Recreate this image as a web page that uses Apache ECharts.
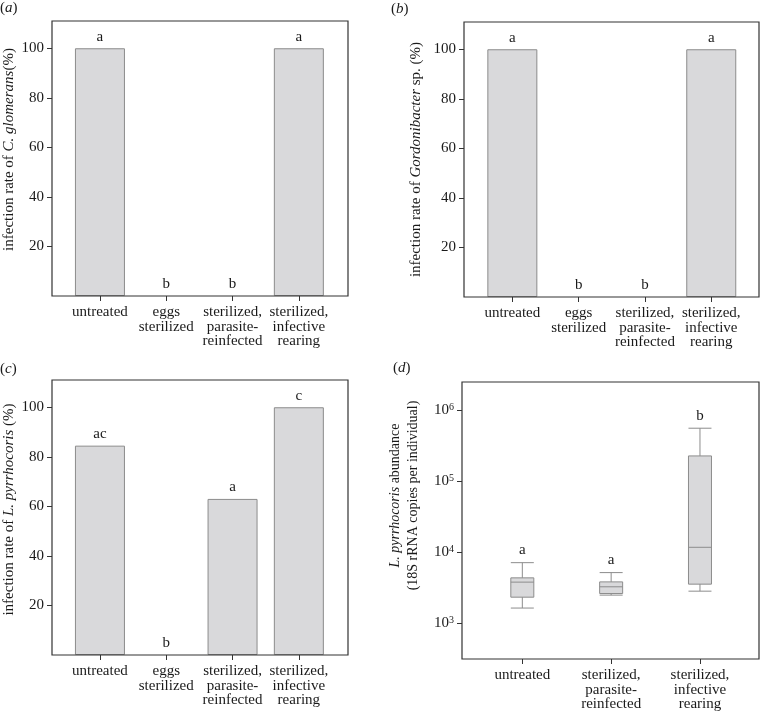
<!DOCTYPE html>
<html>
<head>
    <meta charset="utf-8">
    <title>infection rates</title>
    <script src="https://cdn.jsdelivr.net/npm/echarts@6.0.0/dist/echarts.min.js"></script>
    <style>
        html, body { margin: 0; padding: 0; background: #fff; }
        #main { width: 760px; height: 712px; }
    </style>
</head>
<body>
<div id="main"></div>
<script type="text/javascript">
    // categories
    var catsFour = ['untreated', 'eggs\nsterilized', 'sterilized,\nparasite-\nreinfected', 'sterilized,\ninfective\nrearing'];
    var catsThree = ['untreated', 'sterilized,\nparasite-\nreinfected', 'sterilized,\ninfective\nrearing'];

    // infection rates (%)
    var rateA = [100, 0, 0, 100];
    var lettersA = ['a', 'b', 'b', 'a'];
    var rateB = [100, 0, 0, 100];
    var lettersB = ['a', 'b', 'b', 'a'];
    var rateC = [84.5, 0, 63, 100];
    var lettersC = ['ac', 'b', 'a', 'c'];

    // boxplot: min, Q1, median, Q3, max (copies per individual)
    var boxUntreated = [1630, 2320, 3780, 4340, 7110];
    var boxReinfected = [2480, 2610, 3250, 3810, 5150];
    var boxRearing = [2820, 3540, 11700, 227000, 558000];
    var lettersD = ['a', 'a', 'b'];

    // tick labels
    var pctTicks = [20, 40, 60, 80, 100];
    var logTicks = [1000, 10000, 100000, 1000000];

    var FONT = 'Liberation Serif';
    var INK = '#1a1a1a';
    var BAR_FILL = '#d9d9db';
    var BAR_EDGE = '#8c8c8c';

    var myChart = echarts.init(document.getElementById('main'));

    // frame grid + data grid for each panel
    // frame: the outlined box, data: the band that holds the categories
    var frames = [
        {left: 52, top: 21, width: 296, height: 275},
        {left: 464, top: 22, width: 295, height: 275},
        {left: 52, top: 380, width: 296, height: 275},
        {left: 462, top: 382, width: 297, height: 277}
    ];
    var datas = [
        {left: 66.8, top: 21, width: 265.2, height: 275},
        {left: 479.2, top: 22, width: 265.2, height: 275},
        {left: 66.8, top: 380, width: 265.2, height: 275},
        {left: 477.9, top: 382, width: 266.5, height: 277}
    ];

    var grids = [];
    frames.forEach(function (f) {
        grids.push({left: f.left, top: f.top, width: f.width, height: f.height,
            show: true, borderColor: '#333', borderWidth: 1.2, backgroundColor: 'transparent', z: 5});
    });
    datas.forEach(function (d) {
        grids.push({left: d.left, top: d.top, width: d.width, height: d.height, show: false});
    });

    function pctAxis(gi, name, gap, shift) {
        return {
            type: 'value', gridIndex: gi, min: 0, max: 111,
            splitLine: {show: false},
            axisLine: {show: false},
            axisTick: {show: true, length: 5, customValues: pctTicks, lineStyle: {color: '#333'}},
            axisLabel: {customValues: pctTicks, margin: 8, fontFamily: FONT, fontSize: 15, color: INK},
            name: name, nameLocation: 'middle', nameGap: gap, nameRotate: 90,
            nameTextStyle: {
                fontFamily: FONT, fontSize: 15, color: INK, padding: [0, 0, 0, shift],
                rich: {
                    n: {fontFamily: FONT, fontSize: 15, color: INK},
                    i: {fontFamily: FONT, fontSize: 15, color: INK, fontStyle: 'italic'}
                }
            }
        };
    }

    function supLabel(v) {
        var e = Math.round(Math.log(v) / Math.LN10);
        return '{b|10}{s|' + e + '}';
    }

    var yAxes = [
        pctAxis(0, '{n|infection rate of }{i|C. glomerans}{n|(%)}', 35, 18),
        pctAxis(1, '{n|infection rate of }{i|Gordonibacter}{n| sp. (%)}', 40, 0),
        pctAxis(2, '{n|infection rate of }{i|L. pyrrhocoris}{n| (%)}', 35, 16),
        {
            type: 'log', gridIndex: 3, min: 312, max: 2500000, logBase: 10,
            splitLine: {show: false},
            axisLine: {show: false},
            axisTick: {show: true, length: 5, customValues: logTicks, lineStyle: {color: '#333'}},
            axisLabel: {
                customValues: logTicks, margin: 8, formatter: supLabel,
                rich: {
                    b: {fontFamily: FONT, fontSize: 15, color: INK},
                    s: {fontFamily: FONT, fontSize: 10, color: INK, verticalAlign: 'top', padding: [0, 0, 6, 0]}
                }
            },
            name: '{i|L. pyrrhocoris}{n| abundance}\n{n|(18S rRNA copies per individual)}',
            nameLocation: 'middle', nameGap: 40, nameRotate: 90,
            nameTextStyle: {
                fontFamily: FONT, fontSize: 14, color: INK, padding: [0, 0, 0, 50], lineHeight: 18,
                rich: {
                    n: {fontFamily: FONT, fontSize: 14, color: INK, lineHeight: 18},
                    i: {fontFamily: FONT, fontSize: 14, color: INK, fontStyle: 'italic', lineHeight: 18}
                }
            }
        }
    ];
    // hidden y axes of the data grids, same ranges
    for (var k = 0; k < 3; k++) {
        yAxes.push({type: 'value', gridIndex: 4 + k, min: 0, max: 111, show: false});
    }
    yAxes.push({type: 'log', gridIndex: 7, min: 312, max: 2500000, logBase: 10, show: false});

    var xAxes = [];
    for (var j = 0; j < 4; j++) {
        xAxes.push({type: 'value', gridIndex: j, show: false});
    }
    function catAxis(gi, cats) {
        return {
            type: 'category', gridIndex: gi, data: cats,
            axisLine: {show: false},
            axisTick: {show: true, alignWithLabel: true, length: 5, lineStyle: {color: '#333'}},
            axisLabel: {interval: 0, margin: 9, fontFamily: FONT, fontSize: 15, lineHeight: 14.5, color: INK}
        };
    }
    xAxes.push(catAxis(4, catsFour), catAxis(5, catsFour), catAxis(6, catsFour), catAxis(7, catsThree));

    function barSeries(idx, values, letters) {
        return {
            type: 'bar', xAxisIndex: idx, yAxisIndex: idx, barWidth: 50,
            // empty bars get no outline so the frame line stays clean
            data: values.map(function (v) {
                return v === 0 ? {value: v, itemStyle: {borderWidth: 0}} : v;
            }),
            itemStyle: {color: BAR_FILL, borderColor: BAR_EDGE, borderWidth: 1},
            label: {
                show: true, position: 'top', distance: 4,
                fontFamily: FONT, fontSize: 15, color: INK,
                formatter: function (p) { return letters[p.dataIndex]; }
            },
            silent: true
        };
    }

    var boxStats = [boxUntreated, boxReinfected, boxRearing];

    var option = {
        animation: false,
        title: [
            {text: '({i|a})', left: 0, top: 1},
            {text: '({i|b})', left: 391, top: 2},
            {text: '({i|c})', left: 0, top: 362},
            {text: '({i|d})', left: 393, top: 361}
        ].map(function (t) {
            t.padding = 0;
            t.textStyle = {fontFamily: FONT, fontSize: 15, fontWeight: 'normal', color: INK,
                rich: {i: {fontFamily: FONT, fontSize: 15, fontStyle: 'italic', color: INK}}};
            return t;
        }),
        grid: grids,
        xAxis: xAxes,
        yAxis: yAxes,
        series: [
            barSeries(4, rateA, lettersA),
            barSeries(5, rateB, lettersB),
            barSeries(6, rateC, lettersC),
            {
                type: 'boxplot', xAxisIndex: 7, yAxisIndex: 7, data: boxStats,
                boxWidth: [23, 23],
                itemStyle: {color: BAR_FILL, borderColor: BAR_EDGE, borderWidth: 1}
            },
            {
                type: 'scatter', xAxisIndex: 7, yAxisIndex: 7, symbolSize: 0,
                data: boxStats.map(function (s, i) { return [i, s[4]]; }),
                itemStyle: {opacity: 1},
                label: {
                    show: true, position: 'top', distance: 5,
                    fontFamily: FONT, fontSize: 15, color: INK,
                    formatter: function (p) { return lettersD[p.dataIndex]; }
                }
            }
        ]
    };
    myChart.setOption(option);
</script>
</body>
</html>
